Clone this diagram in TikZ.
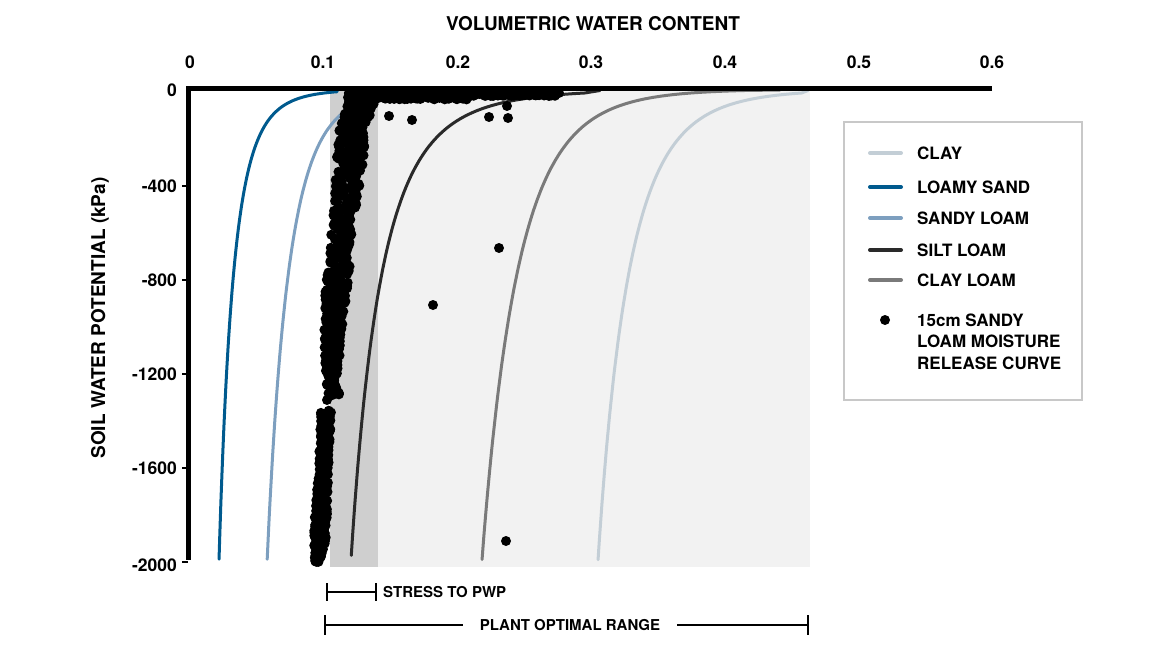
\documentclass[tikz,border=0pt]{standalone}
\usepackage{fontspec}
\setmainfont{TeX Gyre Heros}
\definecolor{lsand}{HTML}{005A8E}
\definecolor{sloam}{HTML}{7D9FBF}
\definecolor{siltl}{HTML}{2A2A2A}
\definecolor{clayl}{HTML}{7A7A7A}
\definecolor{clayc}{HTML}{C3CED6}
\definecolor{lightzone}{HTML}{F2F2F2}
\definecolor{darkzone}{HTML}{CFCFCF}
\definecolor{legborder}{HTML}{C8C8C8}
\begin{document}
\begin{tikzpicture}[x=1pt,y=-1pt,
  curve/.style={line width=3pt,line cap=round,line join=round},
  legline/.style={line width=4pt,line cap=round},
  ticklbl/.style={inner sep=0pt,font=\bfseries\fontsize{17.5}{20}\selectfont},
  leglbl/.style={inner sep=0pt,anchor=west,font=\bfseries\fontsize{17}{20}\selectfont},
  annlbl/.style={inner sep=0pt,font=\bfseries\fontsize{15}{18}\selectfont},
  bracket/.style={line width=1.5pt},
  axisline/.style={line width=5pt,line join=miter}]
\useasboundingbox (0,0) rectangle (1155,650);
% zones
\fill[lightzone] (378,91) rectangle (810,567);
\fill[darkzone] (330,91) rectangle (378,567);
% curves: x = xr + C s^-p, y = 89 + s, sampled in u = ln s
\draw[curve,clayc] (808,90.5) -- plot[domain=1.386:6.155,samples=120,smooth,variable=\u] ({361+527.5*exp(-0.13*\u)},{89+exp(\u)});
\draw[curve,clayl] (780,90) -- plot[domain=0.405:6.155,samples=120,smooth,variable=\u] ({32.3+735.7*exp(-0.08*\u)},{89+exp(\u)});
\draw[curve,siltl] (600,90.5) -- plot[domain=1.386:6.146,samples=120,smooth,variable=\u] ({192.6+510*exp(-0.19*\u)},{89+exp(\u)});
\draw[curve,sloam] plot[domain=1.1:6.155,samples=120,smooth,variable=\u] ({72+384*exp(-0.11*\u)},{89+exp(\u)});
\draw[curve,lsand] plot[domain=1.0:6.155,samples=120,smooth,variable=\u] ({134.7+240*exp(-0.17*\u)},{89+exp(\u)});
% measured points
\pgfmathsetseed{5}
\foreach \ya/\xa/\wa/\yb/\xb/\wb in {103/362/14/130/351/12, 130/351/12/157/351/14, 157/351/14/223/343/10, 223/343/10/290/336/12, 290/336/12/340/332/8, 340/332/8/395/333/6, 412/326/5/460/324/5, 460/324/5/510/321/6, 510/321/6/540/320/6, 540/320/6/562/317/2}{
  \foreach \k in {0,...,90}{
    \pgfmathsetmacro\tq{\k/90}
    \pgfmathsetmacro\yy{\ya+(\yb-\ya)*\tq+2*rand}
    \pgfmathsetmacro\xx{\xa+(\xb-\xa)*\tq+(\wa+(\wb-\wa)*\tq)*rand}
    \fill[black] (\xx,\yy) circle[radius=5];
  }
}
\foreach \k in {0,...,140}{
  \pgfmathsetmacro\xx{348+122*(\k/140)}
  \pgfmathsetmacro\yy{96+3.5*rand}
  \fill[black] (\xx,\yy) circle[radius=5];
}
\foreach \k in {0,...,70}{
  \pgfmathsetmacro\xx{470+85*(\k/70)}
  \pgfmathsetmacro\yy{94.5+1.5*rand}
  \fill[black] (\xx,\yy) circle[radius=5];
}
\foreach \px/\py in {389/116, 412/120, 489/117, 507/106, 508/118, 499/248, 433/305, 506/541, 559/93, 549/96, 327/400, 337/157, 327/290, 355/108, 372/104, 324/415}{
  \fill[black] (\px,\py) circle[radius=5];
}
% axes
\draw[axisline] (992,89) -- (188.5,89) -- (188.5,560);
\foreach \v/\yy in {-400/186,-800/280,-1200/374,-1600/468,-2000/562}{
  \draw[line width=2.5pt] (182,\yy) -- (188,\yy);
}
\foreach \v/\yy in {0/90,-400/186,-800/280,-1200/374,-1600/468,-2000/565}{
  \node[ticklbl,anchor=east] (yl\yy) at (177,\yy) {\v};
}
\foreach \v/\xx in {0/190,0.1/323,0.2/458,0.3/591,0.4/725,0.5/859,0.6/992}{
  \node[ticklbl] (xl\xx) at (\xx,62) {\v};
}
\node[inner sep=0pt,font=\bfseries\fontsize{19}{22}\selectfont] (xtitle) at (593,24) {VOLUMETRIC WATER CONTENT};
\node[inner sep=0pt,rotate=90,font=\bfseries\fontsize{19}{22}\selectfont] (ytitle) at (100,318) {SOIL WATER POTENTIAL (kPa)};
% legend
\draw[legborder,line width=1.5pt] (844,122) rectangle (1082,400);
\foreach \nm/\col/\yy/\txt in {a/clayc/153/CLAY, b/lsand/187/LOAMY SAND, c/sloam/218/SANDY LOAM, d/siltl/250/SILT LOAM, e/clayl/280/CLAY LOAM}{
  \coordinate (ls\nm) at (870,\yy);
  \coordinate (le\nm) at (901,\yy);
  \draw[legline,\col] (ls\nm) -- (le\nm);
  \node[leglbl] (lt\nm) at (917,\yy) {\txt};
}
\fill[black] (885,320) circle[radius=5];
\node[inner sep=0pt,anchor=north west,align=left,font=\bfseries\fontsize{17}{21.5}\selectfont] (ltf) at (917,313.5) {15cm SANDY\\LOAM MOISTURE\\RELEASE CURVE};
% annotations
\coordinate (s1) at (327,592);
\coordinate (s2) at (376,592);
\draw[bracket] (327,583) -- (327,601) (s1) -- (s2) (376,583) -- (376,601);
\node[annlbl,anchor=west] (stress) at (383,592) {STRESS TO PWP};
\coordinate (p1) at (325,625);
\coordinate (p2) at (808,625);
\node[annlbl,inner xsep=17pt] (plant) at (570,625) {PLANT OPTIMAL RANGE};
\draw[bracket] (325,615) -- (325,635) (p1) -- (plant.west) (plant.east) -- (p2) (808,615) -- (808,635);
\end{tikzpicture}
\end{document}
